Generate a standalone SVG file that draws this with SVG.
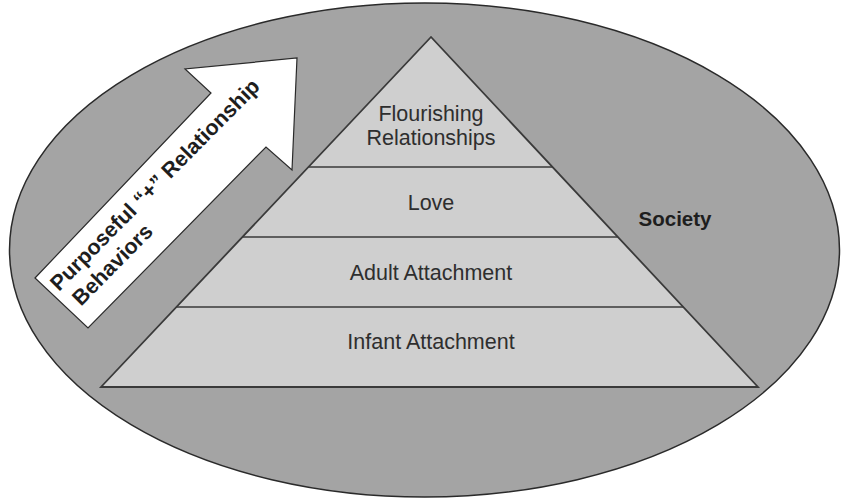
<svg xmlns="http://www.w3.org/2000/svg" width="842" height="501" viewBox="0 0 842 501">
  <style>
    .tier { font-family: "Liberation Sans", Arial, sans-serif; font-size: 21.5px; fill: #2e2e2e; text-anchor: middle; }
    .bold { font-family: "Liberation Sans", Arial, sans-serif; font-weight: bold; fill: #1e1e1e; }
    .edge { stroke: #3a3a3a; stroke-width: 1.6; fill: none; }
  </style>
  <rect width="842" height="501" fill="#ffffff"/>
  <g id="society">
    <ellipse cx="424.5" cy="250" rx="415" ry="247" fill="#a4a4a4" stroke="#2a2a2a" stroke-width="1.5"/>
    <text class="bold" x="675" y="226" text-anchor="middle" font-size="20.5">Society</text>
  </g>
  <g id="pyramid">
    <polygon points="431,37 101,387 758,387" fill="#cfcfcf" stroke="#3a3a3a" stroke-width="1.8"/>
  </g>
  <g id="connectors">
    <line class="edge" x1="308.4" y1="167" x2="552.4" y2="167"/>
    <line class="edge" x1="242.4" y1="237" x2="617.8" y2="237"/>
    <line class="edge" x1="176.4" y1="307" x2="683.2" y2="307"/>
  </g>
  <g id="tier-flourishing">
    <text class="tier" x="431" y="121">Flourishing</text>
    <text class="tier" x="431" y="145">Relationships</text>
  </g>
  <g id="tier-love">
    <text class="tier" x="431" y="210">Love</text>
  </g>
  <g id="tier-adult">
    <text class="tier" x="431" y="280">Adult Attachment</text>
  </g>
  <g id="tier-infant">
    <text class="tier" x="431" y="349">Infant Attachment</text>
  </g>
  <g id="arrow">
    <polygon points="35,278 211,93 185,69 297,58 292,170 266,147 88,328" fill="#ffffff" stroke="#2a2a2a" stroke-width="1.2" stroke-linejoin="miter"/>
    <g transform="translate(59,292) rotate(-45.3)">
      <text class="bold" x="0" y="0" font-size="21.5">Purposeful “+” Relationship</text>
      <text class="bold" x="5" y="26" font-size="21.5">Behaviors</text>
    </g>
  </g>
</svg>
